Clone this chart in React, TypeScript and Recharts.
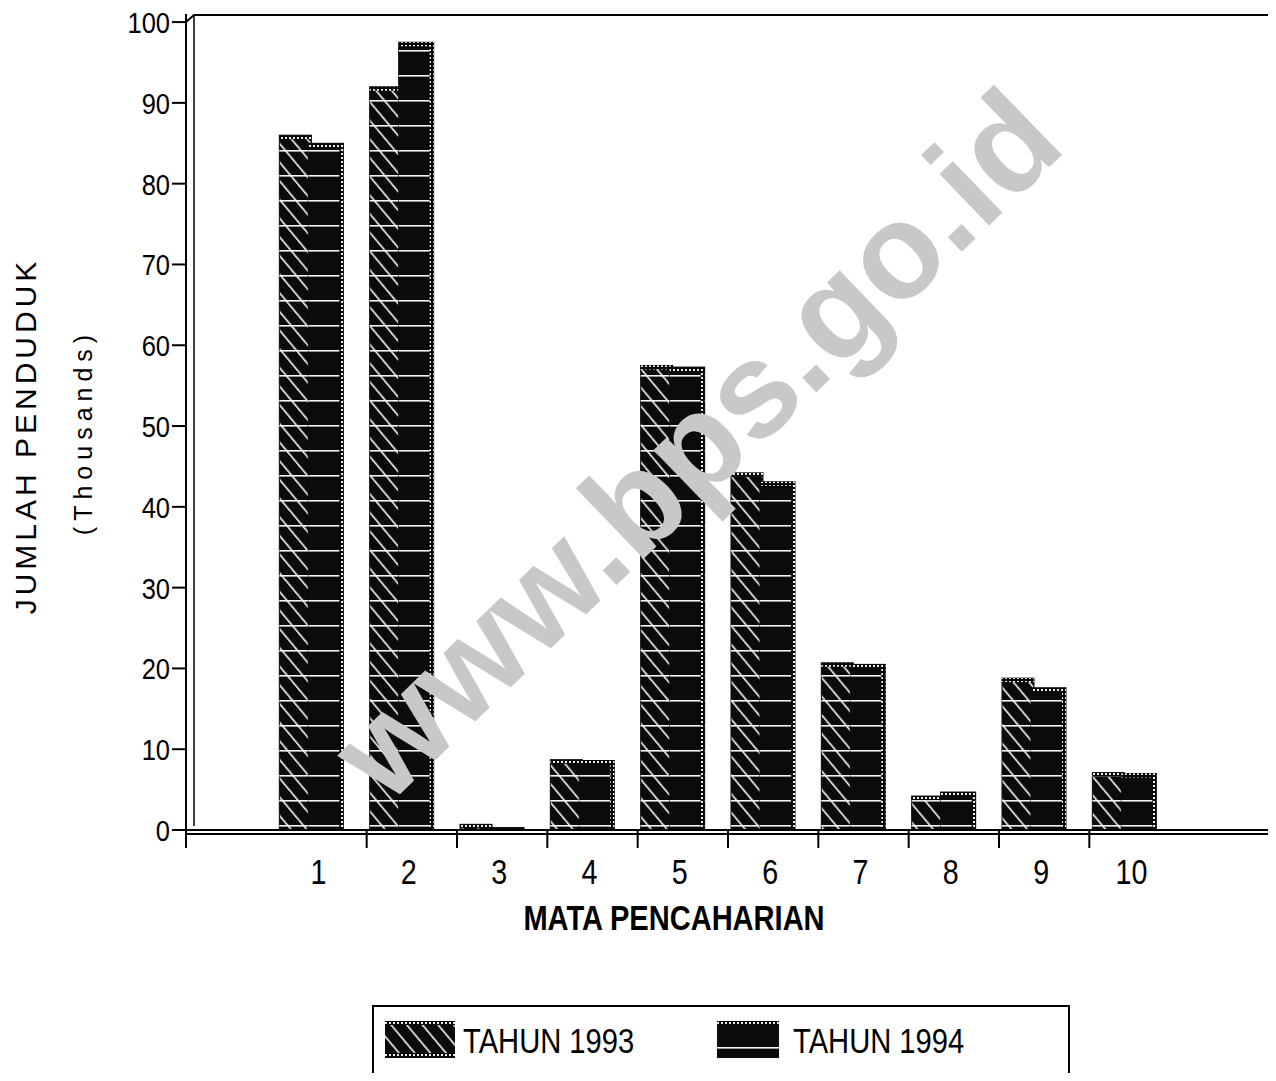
import React from 'react';
import { BarChart, Bar, XAxis, YAxis, Customized } from 'recharts';

// ---- data ----
const categories = ['', '1', '2', '3', '4', '5', '6', '7', '8', '9', '10', ''];
const tahun1993 = [null, 86, 92, 0.7, 8.7, 57.5, 44.2, 20.7, 4.2, 18.8, 7.1, null];
const tahun1994 = [null, 85, 97.5, 0.3, 8.6, 57.3, 43.1, 20.5, 4.7, 17.6, 7.0, null];
const yTicks = [0, 10, 20, 30, 40, 50, 60, 70, 80, 90, 100];
const rightTicks = [20, 30, 40, 50, 60, 70];
const seriesNames = ['TAHUN 1993', 'TAHUN 1994'];

const data = categories.map((c, i) => ({ idx: i, label: c, y1993: tahun1993[i], y1994: tahun1994[i] }));

// ---- layout ----
const CHART_W = 1290;
const CHART_H = 1081;
const PLOT_LEFT = 186;
const PLOT_RIGHT = 1270;
const PLOT_BOTTOM = 830;
const SLOT_W = (PLOT_RIGHT - PLOT_LEFT) / categories.length;
const SHIFT = -10;
const SANS = "'Liberation Sans', Arial, Helvetica, sans-serif";
const INK = '#0b0b0b';

const Narrow = ({ x, y, size, sx, anchor = 'start', bold = false, children, baseline }: any) => (
  <text
    transform={`translate(${x},${y}) scale(${sx},1)`}
    textAnchor={anchor}
    dominantBaseline={baseline}
    fontSize={size}
    fontWeight={bold ? 'bold' : 'normal'}
    fontFamily={SANS}
    fill="#000"
  >
    {children}
  </text>
);

const Patterns = ({ p }: { p: string }) => (
  <defs>
    <pattern id={`${p}hatch`} patternUnits="userSpaceOnUse" width="12" height="12" patternTransform="rotate(-40)">
      <rect x="0" y="0" width="12" height="12" fill={INK} />
      <rect x="1" y="0" width="1.6" height="12" fill="#f4f4f4" />
    </pattern>
    <pattern id={`${p}hlines`} patternUnits="userSpaceOnUse" width="10" height="25">
      <rect x="0" y="0" width="10" height="1.6" fill="#f4f4f4" />
    </pattern>
    <pattern id={`${p}dots`} patternUnits="userSpaceOnUse" width="4" height="4">
      <rect x="0" y="0" width="4" height="4" fill={INK} />
      <rect x="1" y="1" width="2" height="2" fill="#e8e8e8" />
    </pattern>
  </defs>
);

const Bar93 = (props: any) => {
  const { x, y, width, height } = props;
  if (height == null || height <= 0) return null;
  const bx = x + SHIFT;
  return (
    <g>
      <rect x={bx} y={y} width={width} height={height} fill="url(#chatch)" stroke={INK} strokeWidth={1} />
      <rect x={bx} y={y} width={width} height={height} fill="url(#chlines)" />
      <rect x={bx} y={y} width={width} height={Math.min(4, height)} fill="url(#cdots)" />
    </g>
  );
};

const Bar94 = (props: any) => {
  const { x, y, width, height } = props;
  if (height == null || height <= 0) return null;
  const bx = x + SHIFT - 3;
  const w = width + 3;
  return (
    <g>
      <rect x={bx} y={y} width={w} height={height} fill={INK} stroke={INK} strokeWidth={1} />
      <rect x={bx} y={y} width={w} height={height} fill="url(#chlines)" />
      <rect x={bx + w - 4} y={y} width={4} height={height} fill="url(#cdots)" />
      <rect x={bx} y={y} width={w} height={Math.min(4, height)} fill="url(#cdots)" />
    </g>
  );
};

const XTick = (props: any) => {
  const { x, payload, index } = props;
  const i = payload && typeof payload.value === 'number' ? payload.value : index;
  const label = categories[i] || '';
  let tickX: number | null = null;
  if (i === 0 || (i >= 2 && i <= 10)) tickX = x - SLOT_W / 2;
  if (i === categories.length - 1) tickX = x + SLOT_W / 2;
  return (
    <g>
      {tickX !== null && (
        <line x1={tickX} y1={PLOT_BOTTOM} x2={tickX} y2={PLOT_BOTTOM + 18} stroke="#000" strokeWidth={2} />
      )}
      {label && (
        <Narrow x={x - 3} y={884} size={35} sx={0.82} anchor="middle">
          {label}
        </Narrow>
      )}
    </g>
  );
};

const YTick = (props: any) => {
  const { x, y, payload } = props;
  return (
    <Narrow x={x} y={y + 11} size={30} sx={0.85} anchor="end">
      {payload.value}
    </Narrow>
  );
};

const Frame = () => (
  <g>
    <path d={`M${PLOT_LEFT},22 L194,15 L${CHART_W},15`} fill="none" stroke="#000" strokeWidth={2} />
    <line x1={194} y1={15} x2={194} y2={826} stroke="#000" strokeWidth={1.5} />
    <line x1={PLOT_LEFT} y1={834} x2={PLOT_RIGHT + 2} y2={834} stroke="#000" strokeWidth={2} />
  </g>
);

const YLabel = () => (
  <g>
    <text
      transform="translate(36,436) rotate(-90)"
      textAnchor="middle"
      fontSize={30}
      letterSpacing={4}
      fontFamily={SANS}
      fill="#000"
    >
      JUMLAH PENDUDUK
    </text>
    <text
      transform="translate(92,432) rotate(-90)"
      textAnchor="middle"
      fontSize={25}
      letterSpacing={6}
      fontFamily={SANS}
      fill="#000"
    >
      (Thousands)
    </text>
  </g>
);

const Legend = () => (
  <div
    style={{
      position: 'absolute',
      left: 372,
      top: 1005,
      width: 698,
      height: 100,
      border: '2px solid #000',
      boxSizing: 'border-box',
      background: '#fff',
    }}
  >
    <svg width={698} height={100} style={{ position: 'absolute', left: -2, top: -2 }}>
      <Patterns p="l" />
      <rect x={13} y={16} width={70} height={37} fill="url(#lhatch)" />
      <rect x={13} y={16} width={70} height={4} fill="url(#ldots)" />
      <rect x={13} y={48} width={70} height={5} fill="url(#ldots)" />
      <rect x={345} y={16} width={62} height={37} fill={INK} />
      <rect x={345} y={16} width={62} height={4} fill="url(#ldots)" />
      <rect x={345} y={42} width={62} height={1.6} fill="#f4f4f4" />
      <Narrow x={91} y={48} size={36} sx={0.81}>
        {seriesNames[0]}
      </Narrow>
      <Narrow x={421} y={48} size={36} sx={0.81}>
        {seriesNames[1]}
      </Narrow>
    </svg>
  </div>
);

export default function App() {
  return (
    <div
      style={{
        margin: '-8px',
        width: 1276,
        height: 1081,
        overflow: 'hidden',
        position: 'relative',
        background: '#fff',
      }}
    >
      <BarChart
        width={CHART_W}
        height={CHART_H}
        data={data}
        margin={{ top: 14, right: CHART_W - PLOT_RIGHT - 6, bottom: CHART_H - PLOT_BOTTOM - 60, left: 0 }}
        barSize={32}
        barGap={0}
      >
        <Patterns p="c" />
        <XAxis
          dataKey="idx"
          type="category"
          xAxisId="x"
          height={60}
          tickSize={0}
          tickLine={false}
          axisLine={{ stroke: '#000', strokeWidth: 2 }}
          tick={<XTick />}
          interval={0}
        />
        <YAxis
          yAxisId="left"
          width={PLOT_LEFT}
          domain={[0, 101]}
          ticks={yTicks}
          interval={0}
          tickSize={14}
          tickMargin={2}
          tickLine={{ stroke: '#000', strokeWidth: 2 }}
          axisLine={{ stroke: '#000', strokeWidth: 2 }}
          tick={<YTick />}
        />
        <YAxis
          yAxisId="right"
          orientation="right"
          width={6}
          domain={[0, 101]}
          ticks={rightTicks}
          interval={0}
          tickSize={5}
          axisLine={false}
          tickLine={{ stroke: '#000', strokeWidth: 2 }}
          tick={() => <g />}
        />
        <Bar dataKey="y1993" name={seriesNames[0]} xAxisId="x" yAxisId="left" isAnimationActive={false} shape={<Bar93 />} />
        <Bar dataKey="y1994" name={seriesNames[1]} xAxisId="x" yAxisId="left" isAnimationActive={false} shape={<Bar94 />} />
        <Customized component={<Frame />} />
        <Customized component={<YLabel />} />
        <Customized
          component={
            <Narrow x={674} y={930} size={35} sx={0.83} anchor="middle" bold>
              MATA PENCAHARIAN
            </Narrow>
          }
        />
      </BarChart>
      <Legend />
      <svg
        width={1276}
        height={1081}
        style={{ position: 'absolute', left: 0, top: 0, pointerEvents: 'none' }}
      >
        <text
          transform="translate(703,452) rotate(-44)"
          textAnchor="middle"
          dominantBaseline="middle"
          fontSize={135}
          fontWeight="bold"
          fontFamily={SANS}
          fill="#c8c8c8"
        >
          www.bps.go.id
        </text>
      </svg>
    </div>
  );
}
